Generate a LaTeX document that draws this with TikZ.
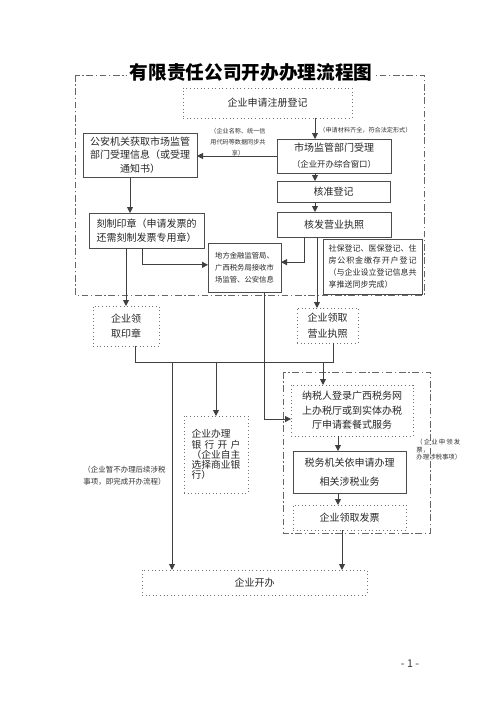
\documentclass[tikz,border=0pt]{standalone}
\usepackage{fontspec}
\setmainfont{Noto Sans CJK SC}
\usetikzlibrary{positioning,arrows.meta}
\newcommand\pxl{0.75pt}
\newcommand\fbody{\fontsize{7.5}{11}\selectfont}
\newcommand\fsmall{\fontsize{5.6}{9}\selectfont}
\newcommand\ftiny{\fontsize{4.6}{8}\selectfont}

\begin{document}
\begin{tikzpicture}[
    x=0.75pt, y=-0.75pt,
    line width=0.7pt,
 mynode/.style = {
        draw=black!70, rectangle, align=center,
        font=\fbody, text=black!85, inner sep=0pt, outer sep=0pt},
dotnode/.style = {
        mynode, draw=black!55, dotted},
mylabel/.style = {
        align=left, font=\ftiny, text=black!80, inner sep=0pt},
  frame/.style = {draw=black!60, dash pattern=on 5pt off 2pt on 1pt off 2pt},
boxsize/.style 2 args = {minimum width=#1*\pxl, minimum height=#2*\pxl},
     arrow/.style = {draw=black!75, -{Triangle[length=4.5pt,width=4.5pt]}},
      line/.style = {draw=black!75}
                    ]
\useasboundingbox (0,0) rectangle (500,707);
% the dash-dot frames
\draw[frame] (75,75) rectangle (424,295);
\draw[frame] (283,372) rectangle (430,533);
% the title
\node (title) [fill=white, inner sep=2pt, text=black,
               font=\fontsize{14}{16}\selectfont\bfseries] at (251,72)
                    {有限责任公司开办办理流程图};
% the column in the center
\node (reg)     [dotnode, boxsize={169}{30}] at (267.5,103) {企业申请注册登记};
\node (accept)  [mynode, boxsize={114}{34}, font=\fontsize{7.5}{12}\selectfont] at (334,156)
                    {市场监管部门受理\\
                     {\fontsize{6.3}{8}\selectfont （企业开办综合窗口）}};
\node (approve) [mynode, boxsize={113}{21}] at (333.5,191.5) {核准登记};
\node (license) [mynode, boxsize={114}{25}] at (334,224.5) {核发营业执照};
% the nodes on the left
\node (police)  [mynode, boxsize={114}{44}, font=\fontsize{7.5}{10}\selectfont] at (140,155)
                    {公安机关获取市场监管\\
                     部门受理信息（或受理\\
                     通知书）};
\node (seal)    [mynode, boxsize={115}{35}, font=\fontsize{7.5}{10.5}\selectfont] at (146.5,230.5)
                    {刻制印章（申请发票的\\
                     还需刻制发票专用章）};
\node (finance) [mynode, boxsize={73}{49}, align=left,
                 font=\fontsize{5.5}{9}\selectfont] at (244.5,267.5)
                    {地方金融监管局、\\
                     广西税务局接收市\\
                     场监管、公安信息};
\node (social)  [mynode, boxsize={99}{55}, align=left,
                 font=\fontsize{6}{9.2}\selectfont] at (372.5,266.5)
                    {社保登记、医保登记、住\\
                     \makebox[11em]{房\hfill 公\hfill 积\hfill 金\hfill 缴\hfill 存\hfill 开\hfill 户\hfill 登\hfill 记}\\
                     （与企业设立登记信息共\\
                     享推送同步完成）};
% the labels on the arrows
\node (lbreg)   [mylabel, anchor=west] at (319,130) {（申请材料齐全，符合法定形式）};
\node (lbshare) [mylabel, align=center] at (238,142)
                    {（企业名称、统一信\\
                     用代码等数据同步共\\
                     享）};
% the nodes below the frame
\node (getseal) [dotnode, boxsize={66}{40}] at (126,326) {企业领\\ 取印章};
\node (getlic)  [dotnode, boxsize={61}{35}, font=\fontsize{7.5}{12}\selectfont] at (327.5,325.5)
                    {企业领取\\ 营业执照};
\node (bank)    [dotnode, boxsize={64}{77}, align=left,
                 font=\fontsize{7.3}{7.6}\selectfont] at (216,454.5)
                    {企业办理\\
                     \makebox[5em]{银\hfill 行\hfill 开\hfill 户}\\
                     （企业自主\\
                     选择商业银\\
                     行）};
\node (lbdone)  [mylabel, anchor=north west, font=\fsmall] at (83,466)
                    {（企业暂不办理后续涉税\\
                     事项，即完成开办流程）};
% the tax branch
\node (tax)     [dotnode, boxsize={122}{51}] at (352,410.5)
                    {纳税人登录广西税务网\\
                     上办税厅或到实体办税\\
                     厅申请套餐式服务};
\node (handle)  [mynode, boxsize={113}{42}, font=\fontsize{7.5}{14}\selectfont] at (349.5,472)
                    {税务机关依申请办理\\ 相关涉税业务};
\node (invoice) [dotnode, boxsize={113}{25}] at (349.5,517.5) {企业领取发票};
\node (lbtax)   [mylabel, anchor=north west, font=\fontsize{4.8}{5.6}\selectfont] at (416,439)
                    {（\,企\,业\,申\,领\,发\\
                     票，\\
                     办理涉税事项）};
\node (open)    [dotnode, boxsize={225}{25}] at (254.5,582.5) {企业开办};
\node (page)    [font=\fontsize{8}{10}\selectfont, text=black!80] at (410,664) {- 1 -};
% the x positions of the lines
\coordinate (xa) at (315,0);
\coordinate (xb) at (130,0);
\coordinate (xc) at (142,0);
\coordinate (xd) at (304,0);
\coordinate (xe) at (264,0);
\coordinate (xf) at (135,0);
\coordinate (xg) at (333,0);
\coordinate (xh) at (323,0);
\coordinate (xi) at (172,0);
\coordinate (xj) at (338,0);
\coordinate (xk) at (342,0);
\coordinate (xl) at (317,0);
\coordinate (bus) at (0,362);
% the arrows
\draw[arrow] (xa |- reg.south) -- (xa |- accept.north);
\draw[arrow] (xa |- accept.south) -- (xa |- approve.north);
\draw[arrow] (xa |- approve.south) -- (xa |- license.north);
\draw[arrow] (accept.west) -- (accept.west -| police.east);
\draw[arrow] (xb |- police.south) -- (xb |- seal.north);
\draw[arrow] (xc |- seal.south) |- ([yshift=2pt]finance.west);
\draw[arrow] (xd |- license.south) |- ([yshift=4pt]finance.east);
\draw[arrow] (getseal.north |- seal.south) -- (getseal.north);
\draw[arrow] (xl |- license.south) -- (xl |- getlic.north);
\draw[arrow] (xe |- finance.south) |- ([yshift=-6.4pt]tax.west);
\draw[line]  (xf |- getseal.south) -- (xf |- bus) -- (xg |- bus) -- (xg |- getlic.south);
\draw[arrow] (xh |- bus) -- (xh |- tax.north);
\draw[arrow] (bank.north |- bus) -- (bank.north);
\draw[arrow] (xi |- bus) -- (xi |- open.north);
\draw[arrow] (xj |- tax.south) -- (xj |- handle.north);
\draw[arrow] (xj |- handle.south) -- (xj |- invoice.north);
\draw[arrow] (xk |- invoice.south) -- (xk |- open.north);
\end{tikzpicture}
\end{document}
